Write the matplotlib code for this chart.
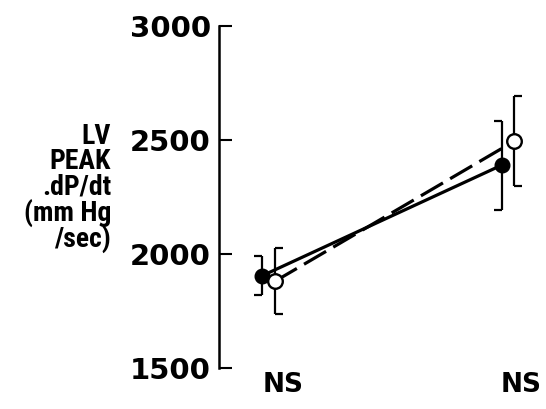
import matplotlib
matplotlib.use("Agg")
import matplotlib.pyplot as plt
from matplotlib.path import Path
from matplotlib import font_manager

# ---- data ----
conditions = ["NS", "NS"]
group_x = [0.0, 1.0]
filled_means = [1905, 2390]
filled_err = [85, 195]
open_means = [1880, 2495]
open_err = [145, 197]
yticks = [1500, 2000, 2500, 3000]
ylabel = "LV\nPEAK\n.dP/dt\n(mm Hg\n/sec)"

# ---- fonts ----
names = {f.name for f in font_manager.fontManager.ttflist}
cond_font = None
for cand in ["Liberation Sans Narrow", "DejaVu Sans Condensed", "Roboto Condensed", "Open Sans Condensed"]:
    if cand in names:
        cond_font = cand
        break
has_dejavu_cond = any(f.name == "DejaVu Sans" and str(f.stretch) in ("condensed", "semi-condensed")
                      for f in font_manager.fontManager.ttflist)

fig = plt.figure(figsize=(5.46, 4.09), dpi=100)
ax = fig.add_axes([219 / 546, 41 / 409, (544 - 219) / 546, 342 / 409])

off = 0.026
fx = [g - off for g in group_x]
ox = [g + off for g in group_x]

# lines
ax.plot(fx, filled_means, color="black", lw=2.3, solid_capstyle="butt", zorder=2)
ax.plot(ox, open_means, color="black", lw=2.3, dashes=(8, 2.6), zorder=2)

# error bars (vertical)
ax.vlines(fx, [m - e for m, e in zip(filled_means, filled_err)],
          [m + e for m, e in zip(filled_means, filled_err)], color="black", lw=1.6, zorder=3)
ax.vlines(ox, [m - e for m, e in zip(open_means, open_err)],
          [m + e for m, e in zip(open_means, open_err)], color="black", lw=1.6, zorder=3)

# half caps
left_cap = Path([(-1, 0), (0, 0)])
right_cap = Path([(0, 0), (1, 0)])
for xs, ms, es, mk in [(fx, filled_means, filled_err, left_cap), (ox, open_means, open_err, right_cap)]:
    ys = [m + e for m, e in zip(ms, es)] + [m - e for m, e in zip(ms, es)]
    ax.plot(list(xs) * 2, ys, linestyle="none", marker=mk, markersize=12,
            markeredgewidth=1.6, color="black", zorder=3)

# markers
ax.plot(fx, filled_means, "o", color="black", markersize=10.5, zorder=4)
ax.plot(ox, open_means, "o", markerfacecolor="white", markeredgecolor="black",
        markeredgewidth=1.7, markersize=10.5, zorder=5)

ax.set_xlim(-0.207, 1.15)
ax.set_ylim(1500, 3000)
ax.set_yticks(yticks)
ax.set_yticklabels([str(t) for t in yticks], fontsize=21, fontweight="bold", family="DejaVu Sans")
ax.tick_params(axis="y", direction="in", length=9, width=1.5, pad=6)

ax.set_xticks([0.06, 1.055])
ax.set_xticklabels(conditions, fontsize=19, fontweight="bold", family="DejaVu Sans")
ax.tick_params(axis="x", length=0, pad=3)

for s in ["top", "right", "bottom"]:
    ax.spines[s].set_visible(False)
ax.spines["left"].set_linewidth(1.8)

kw = dict(ha="right", va="center", multialignment="right", fontsize=20, linespacing=0.92)
if cond_font:
    fig.text(111 / 546, 1 - 188 / 409, ylabel, family=cond_font, fontweight="bold", **kw)
elif has_dejavu_cond:
    fig.text(111 / 546, 1 - 188 / 409, ylabel, family="DejaVu Sans", fontstretch="condensed",
             fontweight="bold", **kw)
else:
    kw["fontsize"] = 16
    fig.text(111 / 546, 1 - 188 / 409, ylabel, family="DejaVu Sans", fontweight="bold", **kw)

fig.savefig("out.png", dpi=100)
